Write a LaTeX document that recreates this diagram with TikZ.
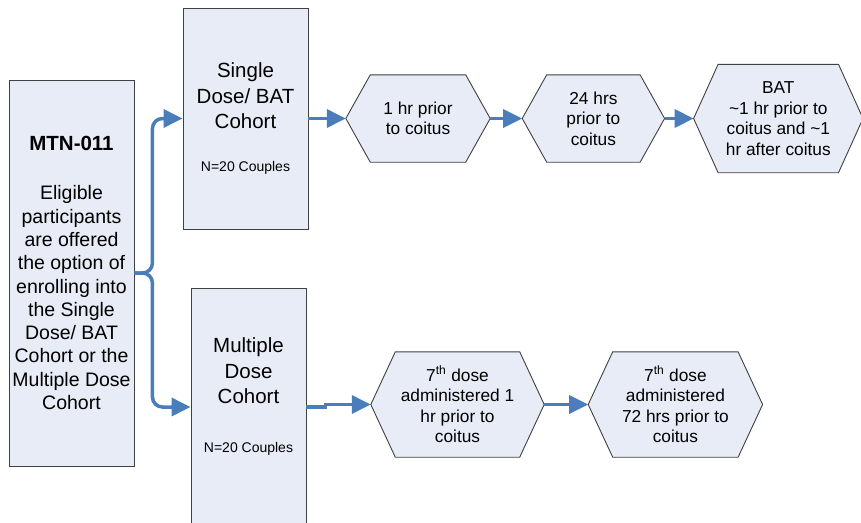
\documentclass[tikz,border=0pt]{standalone}
\usepackage{fontspec}
\setmainfont{Liberation Sans}
\usetikzlibrary{arrows.meta,backgrounds,positioning}

\definecolor{boxfill}{HTML}{E7ECF6}
\definecolor{boxline}{HTML}{404040}
\definecolor{flowblue}{HTML}{4A7EBB}

\begin{document}
\begin{tikzpicture}[x=1pt,y=-1pt,
  flow/.style={draw=flowblue,line width=3.5pt,-{Triangle[length=19pt,width=18pt]}},
  cohort/.style={draw=boxline,fill=boxfill,line width=0.9pt,inner sep=0pt},
  title/.style={align=center,inner sep=0pt,font=\fontsize{20.5}{25.5}\selectfont},
  count/.style={inner sep=0pt,font=\fontsize{14}{16.5}\selectfont},
  stage/.style={inner sep=0pt,align=center,minimum height=87pt,font=\fontsize{17.3}{20.6}\selectfont}]
  \useasboundingbox (0,0) rectangle (861,522);
  % Enrolment
  \node[cohort,minimum width=125pt,minimum height=386pt,align=center,
        font=\fontsize{19.5}{23.3}\selectfont] (mtn) at (71.5,273)
    {{\bfseries\fontsize{20.5}{24}\selectfont MTN-011}\\[26pt]
     Eligible\\participants\\are offered\\the option of\\enrolling into\\the Single\\Dose/ BAT\\Cohort or the\\Multiple Dose\\Cohort};
  % Cohorts
  \node[cohort,minimum width=125pt,minimum height=221pt] (single)   at (245.5,118.5) {};
  \node[cohort,minimum width=115pt,minimum height=238pt] (multiple) at (248.5,407)   {};
  \node[title] (single title)   at (245.5,96)  {Single\\Dose/ BAT\\Cohort};
  \node[count] (single n)       at (245.5,168) {N=20 Couples};
  \node[title] (multiple title) at (248.5,371) {Multiple\\Dose\\Cohort};
  \node[count] (multiple n)     at (248.5,449) {N=20 Couples};
  % Single dose / BAT stages
  \node[stage,minimum width=144pt] (hex1) at (418,118.5)      {1 hr prior\\to coitus};
  \node[stage,minimum width=142pt] (hex2) [right=32pt of hex1] {24 hrs\\prior to\\coitus};
  \node[stage,minimum width=169pt,minimum height=108pt] (hex3) [right=29pt of hex2]
    {BAT\\\textasciitilde1 hr prior to\\coitus and \textasciitilde1\\hr after coitus};
  % Multiple dose stages
  \node[stage,minimum width=173pt,minimum height=105pt] (hex4) at (457.5,404.5)
    {7\textsuperscript{th} dose\\administered 1\\hr prior to\\coitus};
  \node[stage,minimum width=174pt,minimum height=105pt] (hex5) [right=44pt of hex4]
    {7\textsuperscript{th} dose\\administered\\72 hrs prior to\\coitus};
  % Connecting edges
  \draw[flow,rounded corners=10pt] (mtn.east) -- ++(18,0) |- (single.west);
  \draw[flow,rounded corners=10pt] (mtn.east) -- ++(18,0) |- (multiple.west);
  \draw[flow] (single.east) -- (hex1.west);
  \draw[flow] (hex1.east) -- (hex2.west);
  \draw[flow] (hex2.east) -- (hex3.west);
  \draw[flow] (multiple.east) -- ++(19,0) |- (hex4.west);
  \draw[flow] (hex4.east) -- (hex5.west);

  \begin{pgfonlayer}{background}
	  \foreach \h in {hex1,hex2,hex3,hex4,hex5}
	  \filldraw[draw=boxline,fill=boxfill,line width=0.9pt]
	  (\h.west) -- ([xshift=24.5pt]\h.north west) -- ([xshift=-24.5pt]\h.north east)
	  -- (\h.east) -- ([xshift=-24.5pt]\h.south east) -- ([xshift=24.5pt]\h.south west) -- cycle;
  \end{pgfonlayer}
\end{tikzpicture}
\end{document}
